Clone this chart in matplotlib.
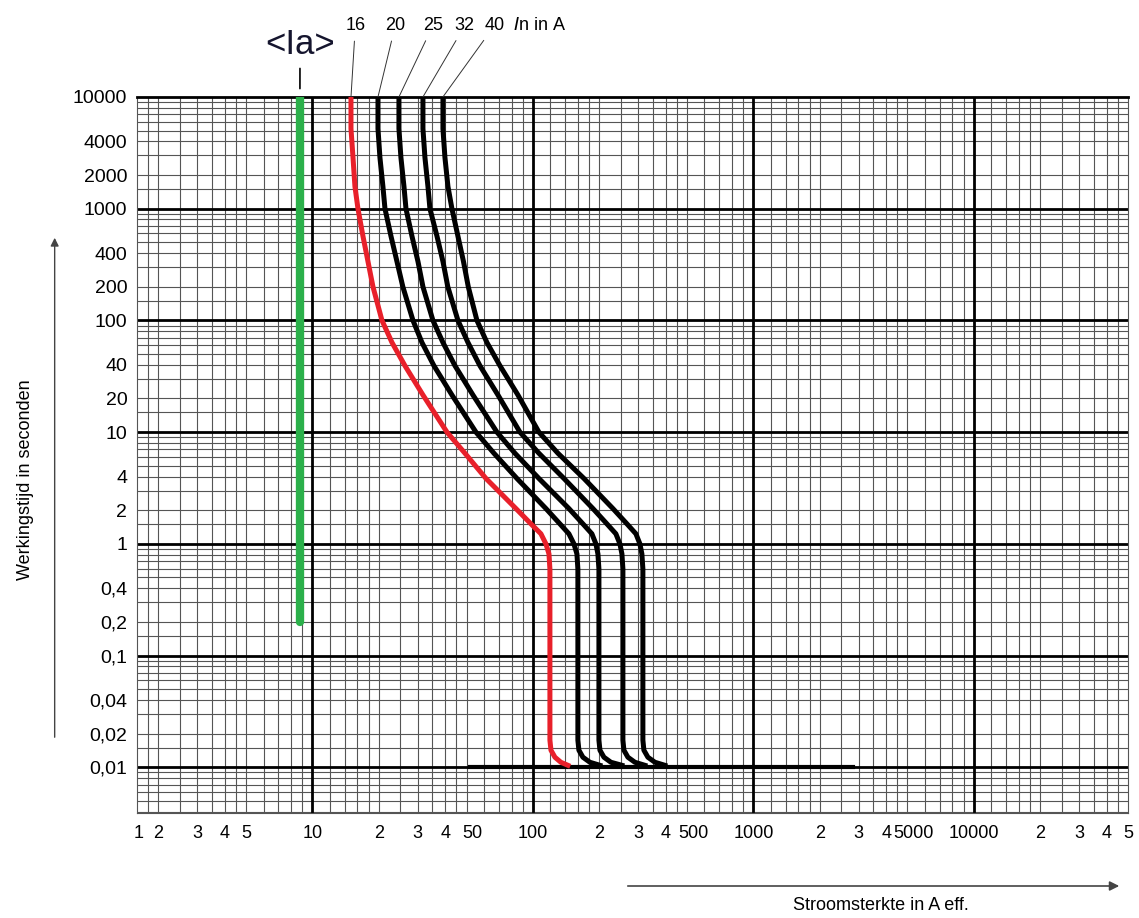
import numpy as np
import matplotlib.pyplot as plt
from matplotlib.patches import FancyArrowPatch
from matplotlib.transforms import ScaledTranslation

plt.rcParams['font.family'] = ['Liberation Sans', 'DejaVu Sans']

# --- Data (time in s, current in A) ---
t_s = [10000, 5194, 2863, 1579, 1000, 568, 337, 200, 100, 63.4, 39.3, 21.5, 10,
       6.47, 3.85, 2.07, 1.51, 1.23, 1.0, 0.813, 0.595, 0.0175, 0.01423, 0.01231, 0.01109, 0.01042]
i_16 = [14.95, 14.95, 15.27, 15.58, 16.08, 16.94, 17.85, 18.81, 20.66, 22.94, 26.27, 31.70, 40.73,
        49.15, 61.20, 83.71, 97.91, 108.7, 114.5, 118.2, 119.4, 119.4, 120.7, 125.8, 133.9, 144.1]
i_20 = [19.82, 19.82, 20.23, 20.87, 21.32, 22.70, 24.16, 25.70, 28.56, 31.37, 35.55, 42.91, 55.13,
        66.54, 84.59, 114.5, 132.5, 145.6, 153.4, 158.3, 159.9, 159.9, 161.6, 168.5, 181.3, 201.3]
i_25 = [24.67, 24.67, 25.19, 26.00, 26.55, 28.26, 30.09, 31.70, 35.18, 39.06, 44.29, 53.43, 68.65,
        82.84, 106.4, 145.6, 168.5, 185.1, 193.0, 197.1, 199.2, 199.2, 201.3, 209.9, 225.8, 253.3]
i_32 = [31.70, 31.70, 32.37, 33.40, 34.10, 36.70, 39.06, 41.10, 45.68, 50.72, 57.48, 69.38, 87.29,
        106.4, 138.2, 187.1, 216.5, 237.8, 248.0, 253.3, 255.9, 255.9, 258.6, 269.6, 290.1, 322.0]
i_40 = [39.06, 39.06, 39.89, 41.16, 42.91, 45.68, 48.40, 50.90, 55.71, 61.84, 70.84, 85.48, 106.4,
        129.8, 170.3, 230.5, 266.9, 293.1, 305.6, 312.0, 315.3, 315.3, 318.6, 332.2, 357.5, 396.7]
ratings = ['16', '20', '25', '32', '40']

# common short-circuit tail of the black curves
tail_i = [52, 2830]
tail_t = [0.0101, 0.0101]

# Ia marker
ia_i = [8.77, 8.77]
ia_t = [10000, 0.2]

xtick_vals = [1.63, 2, 3, 4, 5, 10, 20, 30, 40, 50, 100, 200, 300, 400, 500,
              1000, 2000, 3000, 4000, 5000, 10000, 20000, 30000, 40000, 50000]
xtick_labels = ['1', '2', '3', '4', '5', '10', '2', '3', '4', '50', '100', '2', '3', '4', '500',
                '1000', '2', '3', '4', '5000', '10000', '2', '3', '4', '5']
ytick_vals = [10000, 4000, 2000, 1000, 400, 200, 100, 40, 20, 10, 4, 2, 1,
              0.4, 0.2, 0.1, 0.04, 0.02, 0.01]
ytick_labels = ['10000', '4000', '2000', '1000', '400', '200', '100', '40', '20', '10', '4', '2', '1',
                '0,4', '0,2', '0,1', '0,04', '0,02', '0,01']

xlim = (1.6, 50000)
ylim = (0.0039, 10000)

fig = plt.figure(figsize=(11.39, 9.18), dpi=100)
ax = fig.add_axes([0.1203, 0.1144, 0.870, 0.780])
ax.set_xscale('log')
ax.set_yscale('log')
ax.set_xlim(*xlim)
ax.set_ylim(*ylim)

# --- log paper grid ---
x_subs = [1.2, 1.4, 1.6, 1.8, 2, 2.5, 3, 3.5, 4, 4.5, 5, 6, 7, 8, 9]
y_subs = [1.5, 2, 3, 4, 5, 6, 7, 8, 9]
for d in range(0, 5):
    for s in x_subs:
        v = s * 10 ** d
        if xlim[0] < v < xlim[1]:
            ax.axvline(v, color='#555555', lw=0.8, zorder=1)
for d in range(-3, 4):
    for s in y_subs:
        v = s * 10.0 ** d
        if ylim[0] < v < ylim[1]:
            ax.axhline(v, color='#555555', lw=0.8, zorder=1)
for v in [10, 100, 1000, 10000]:
    ax.axvline(v, color='black', lw=2, zorder=2)
for v in [0.01, 0.1, 1, 10, 100, 1000]:
    ax.axhline(v, color='black', lw=2, zorder=2)

# --- curves ---
ax.plot(ia_i, ia_t, color='#2bb04a', lw=6, solid_capstyle='round', zorder=5)
ax.plot(tail_i, tail_t, color='black', lw=3, zorder=4)
for cur in [i_20, i_25, i_32, i_40]:
    ax.plot(cur, t_s, color='black', lw=3.6, solid_joinstyle='round', zorder=4)
ax.plot(i_16, t_s, color='#e8202a', lw=3.6, solid_joinstyle='round', zorder=5)

# --- ticks & spines ---
ax.set_xticks(xtick_vals, labels=xtick_labels)
ax.set_yticks(ytick_vals, labels=ytick_labels)
ax.minorticks_off()
ax.tick_params(axis='both', length=0)
ax.tick_params(axis='x', pad=9, labelsize=13)
ax.tick_params(axis='y', pad=7, labelsize=14)
shift = ScaledTranslation(6 / 100, 0, fig.dpi_scale_trans)
for lbl in ax.get_xticklabels():
    if lbl.get_text() in ('50', '500', '5000'):
        lbl.set_transform(lbl.get_transform() + shift)
for side in ['left', 'right', 'bottom']:
    ax.spines[side].set_color('#555555')
    ax.spines[side].set_linewidth(0.8)
ax.spines['top'].set_linewidth(2)

# --- labels on top ---
label_x = [0.312, 0.347, 0.380, 0.408, 0.434]
for lab, cur, lx in zip(ratings, [i_16, i_20, i_25, i_32, i_40], label_x):
    ax.annotate(lab, xy=(cur[0], t_s[0]), xytext=(lx, 0.972), textcoords='figure fraction',
                ha='center', va='center', fontsize=13,
                arrowprops=dict(arrowstyle='-', lw=0.7, color='#333333', shrinkA=3, shrinkB=0))
fig.text(0.450, 0.972, r'$\mathit{I}$n in A', ha='left', va='center', fontsize=13)

ax.annotate('<Ia>', xy=(ia_i[0], t_s[0]), xytext=(0.2634, 0.951), textcoords='figure fraction',
            ha='center', va='center', fontsize=25, color='#15152e',
            arrowprops=dict(arrowstyle='-', lw=1.2, color='black', shrinkA=3, shrinkB=6))

# --- axis titles with arrows ---
fig.text(0.022, 0.477, 'Werkingstijd in seconden', rotation=90, ha='center', va='center', fontsize=13)
fig.patches.append(FancyArrowPatch(
    (0.048, 1 - 740 / 918), (0.048, 1 - 235 / 918), transform=fig.transFigure,
    arrowstyle='-|>', mutation_scale=12, lw=1, color='#444444'))
fig.text(0.773, 0.014, 'Stroomsterkte in A eff.', ha='center', va='center', fontsize=13)
fig.patches.append(FancyArrowPatch(
    (625 / 1139, 1 - 886 / 918), (1122 / 1139, 1 - 886 / 918), transform=fig.transFigure,
    arrowstyle='-|>', mutation_scale=14, lw=1.2, color='#444444'))

fig.savefig('out.png', dpi=100)
